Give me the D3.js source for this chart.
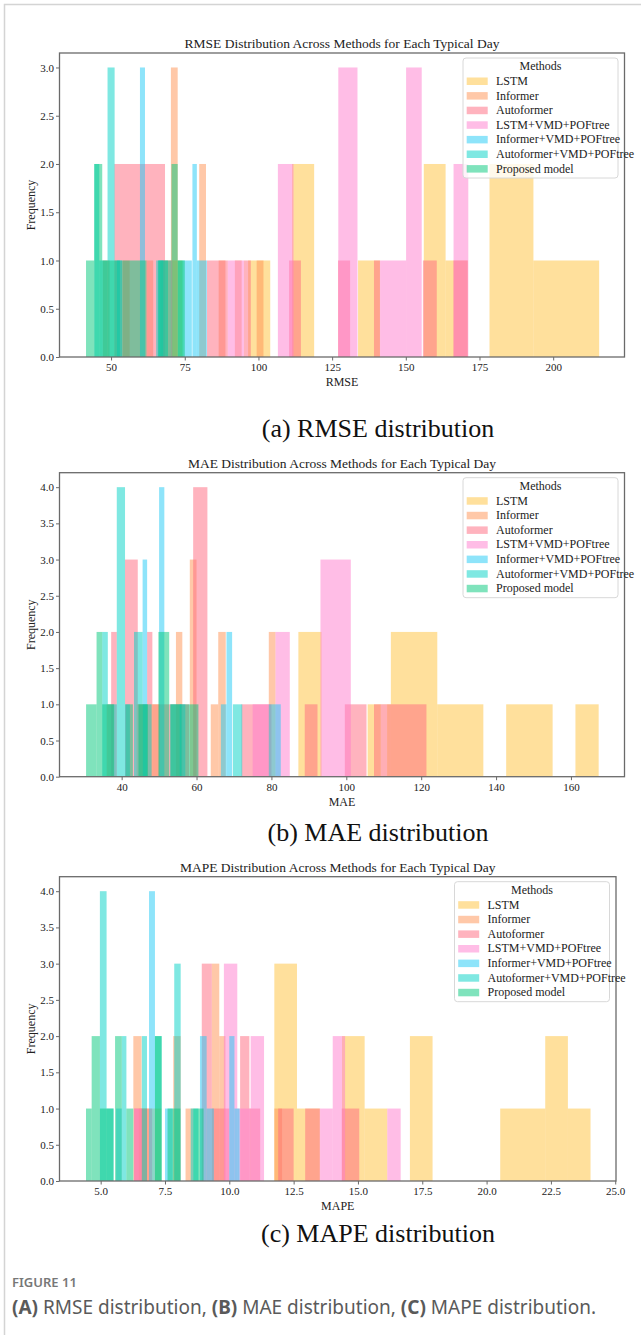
<!DOCTYPE html>
<html>
<head>
<meta charset="utf-8">
<script src="https://cdn.jsdelivr.net/npm/d3@7/dist/d3.min.js"></script>
<style>
  body { margin: 0; background: #fff; }
  svg text { font-family: "Liberation Serif", "Times New Roman", serif; }
  .cap text { font-family: "Noto Sans", "Open Sans", sans-serif; }
</style>
</head>
<body>
<svg id="fig" width="641" height="1335"></svg>
<script>
// methods and colours (alpha applied when drawing)
const methods = ["LSTM", "Informer", "Autoformer", "LSTM+VMD+POFtree",
  "Informer+VMD+POFtree", "Autoformer+VMD+POFtree", "Proposed model"];
const methodColors = ["#ffc139", "#ff9151", "#ff677d", "#ff7bcd", "#1dc9f5", "#00d1c5", "#00c779"];

// histogram bars: [bin start, bin end, count]
const rmseLSTM = [[66.8,74.2,1],[96.5,104.0,1],[111.4,118.9,2],[133.8,141.2,1],[156.1,163.5,2],[163.5,171.0,1],
  [178.4,193.3,2],[193.3,215.6,1]];
const rmseInformer = [[47.2,49.5,1],[54.0,56.3,1],[62.0,64.3,1],[70.3,72.6,3],[79.9,82.2,2],[86.5,88.8,1],
  [92.0,94.3,1],[99.4,101.7,1]];
const rmseAutoformer = [[51.1,68.3,2],[82.5,89.6,1],[95.1,97.4,1],[110.4,114.4,1],[127.0,131.1,1],[139.2,141.3,1],
  [155.8,160.5,1],[166.2,171.0,1]];
const rmseLstmVmd = [[67.5,70.8,1],[89.6,95.1,1],[106.6,111.9,2],[127.1,133.6,3],[141.3,150.1,1],[150.1,155.4,3],
  [166.2,171.2,2]];
const rmseInformerVmd = [[52.0,53.7,1],[59.8,61.5,3],[66.0,67.7,1],[74.5,77.4,1],[77.6,79.1,2],[79.1,82.5,1]];
const rmseAutoformerVmd = [[44.3,46.0,2],[46.0,48.8,1],[48.8,51.2,3],[51.2,53.0,1],[65.3,69.3,1],[72.6,74.5,1]];
const rmseProposed = [[41.5,44.3,1],[44.3,47.0,2],[47.0,62.0,1],[66.0,70.5,1],[70.5,72.6,2],[72.6,75.0,1]];

const maeLSTM = [[44.0,50.2,1],[87.2,93.4,2],[105.7,111.9,1],[111.9,124.3,2],[124.3,136.6,1],[142.7,155.1,1],
  [161.2,167.4,1]];
const maeInformer = [[36.0,37.8,1],[54.5,56.2,2],[58.2,60.0,3],[63.8,65.8,1],[65.8,67.8,2],[79.3,81.1,2]];
const maeAutoformer = [[37.2,38.7,2],[40.9,44.3,3],[44.3,46.8,1],[46.8,48.2,2],[48.2,58.0,1],[59.1,62.9,4],
  [72.0,80.0,1],[88.9,92.3,1],[99.6,105.4,1],[107.4,109.2,1],[110.9,121.4,1]];
const maeLstmVmd = [[75.0,79.3,1],[81.1,84.9,2],[93.1,101.2,3],[109.2,110.9,1]];
const maeInformerVmd = [[40.9,42.2,1],[45.6,46.8,3],[50.0,51.4,4],[55.5,57.0,1],[66.5,68.0,1],[68.0,69.5,2],
  [79.3,82.5,1]];
const maeAutoformerVmd = [[34.8,36.3,2],[36.3,38.7,1],[38.7,40.9,4],[43.3,45.6,2],[45.6,48.0,1],[53.0,56.0,1],
  [69.7,72.2,1]];
const maeProposed = [[30.5,33.3,1],[33.3,34.8,2],[34.8,38.0,1],[41.0,43.0,1],[44.5,47.0,1],[49.8,52.7,2],
  [53.0,60.5,1]];

const mapeLSTM = [[6.48,7.36,1],[11.75,12.63,3],[12.63,13.51,1],[14.38,15.26,2],[15.26,16.14,1],[17.02,17.9,2],
  [20.53,22.28,1],[22.28,23.16,2],[23.16,24.04,1]];
const mapeInformer = [[6.27,6.59,2],[6.59,6.8,1],[7.82,8.11,2],[8.3,8.6,1],[9.32,9.61,3],[9.61,9.85,2],
  [11.75,12.05,1]];
const mapeAutoformer = [[6.3,7.0,1],[8.93,9.32,3],[9.32,10.0,1],[10.42,10.78,2],[10.78,11.2,1],[11.9,12.5,1],
  [12.95,13.53,1],[14.37,15.05,1]];
const mapeLstmVmd = [[6.3,6.6,1],[9.79,10.31,3],[10.31,10.83,1],[10.83,11.35,2],[13.53,14.02,1],[14.02,14.5,2],
  [16.14,16.66,1]];
const mapeInformerVmd = [[5.6,5.82,1],[6.88,7.11,4],[7.5,7.8,1],[8.86,9.12,2],[9.12,9.4,1],[10.0,10.2,2],
  [10.2,10.4,1]];
const mapeAutoformerVmd = [[4.97,5.23,4],[5.23,5.5,1],[5.82,6.0,2],[6.6,6.8,2],[7.11,7.37,2],[7.86,8.11,3],
  [8.5,8.8,1]];
const mapeProposed = [[4.43,4.65,1],[4.65,4.97,2],[4.97,5.5,1],[5.56,5.82,2],[6.0,6.27,1],[7.11,7.37,2],
  [7.6,8.1,1],[8.6,9.0,1]];

// tick labels
const rmseTicks = [50, 75, 100, 125, 150, 175, 200];
const maeTicks = [40, 60, 80, 100, 120, 140, 160];
const mapeTicks = [5, 7.5, 10, 12.5, 15, 17.5, 20, 22.5, 25];
const freq3Ticks = [0, 0.5, 1, 1.5, 2, 2.5, 3];
const freq4Ticks = [0, 0.5, 1, 1.5, 2, 2.5, 3, 3.5, 4];

const panels = [
  { metric: "RMSE", sub: "(a) RMSE distribution",
    series: [rmseLSTM, rmseInformer, rmseAutoformer, rmseLstmVmd, rmseInformerVmd, rmseAutoformerVmd, rmseProposed],
    xDomain: [32.5, 224.2], xTicks: rmseTicks, xFmt: d3.format("d"), yMax: 3.15, yTicks: freq3Ticks,
    left: 59.5, right: 624.5, top: 53, bottom: 357, subY: 437 },
  { metric: "MAE", sub: "(b) MAE distribution",
    series: [maeLSTM, maeInformer, maeAutoformer, maeLstmVmd, maeInformerVmd, maeAutoformerVmd, maeProposed],
    xDomain: [23.4, 174.3], xTicks: maeTicks, xFmt: d3.format("d"), yMax: 4.2, yTicks: freq4Ticks,
    left: 59.5, right: 624.5, top: 472.7, bottom: 776.7, subY: 841 },
  { metric: "MAPE", sub: "(c) MAPE distribution",
    series: [mapeLSTM, mapeInformer, mapeAutoformer, mapeLstmVmd, mapeInformerVmd, mapeAutoformerVmd, mapeProposed],
    xDomain: [3.4, 25.03], xTicks: mapeTicks, xFmt: d3.format(".1f"), yMax: 4.2, yTicks: freq4Ticks,
    left: 59.5, right: 616, top: 876.7, bottom: 1181, subY: 1242 }
];

const svg = d3.select("#fig");

// card frame
svg.append("rect").attr("x", 4.5).attr("y", 4.5).attr("width", 700).attr("height", 1400)
  .attr("fill", "none").attr("stroke", "#d4d4d4").attr("stroke-width", 1.5);

panels.forEach(p => {
  const x = d3.scaleLinear().domain(p.xDomain).range([p.left, p.right]);
  const y = d3.scaleLinear().domain([0, p.yMax]).range([p.bottom, p.top]);
  const g = svg.append("g");

  // bars, one method after another so later ones sit on top
  p.series.forEach((bins, i) => {
    g.append("g").selectAll("rect").data(bins).join("rect")
      .attr("x", d => x(d[0]))
      .attr("width", d => x(d[1]) - x(d[0]))
      .attr("y", d => y(d[2]))
      .attr("height", d => y(0) - y(d[2]))
      .attr("fill", methodColors[i])
      .attr("fill-opacity", 0.5);
  });

  // axes
  const xAxis = g.append("g").attr("transform", `translate(0,${p.bottom})`)
    .call(d3.axisBottom(x).tickValues(p.xTicks).tickFormat(p.xFmt).tickSize(3.5).tickPadding(3));
  const yAxis = g.append("g").attr("transform", `translate(${p.left},0)`)
    .call(d3.axisLeft(y).tickValues(p.yTicks).tickFormat(d3.format(".1f")).tickSize(3.5).tickPadding(2));
  [xAxis, yAxis].forEach(a => {
    a.select(".domain").remove();
    a.selectAll("line").attr("stroke", "#444").attr("stroke-width", 0.8);
    a.selectAll("text").style("font-family", "Liberation Serif, serif").style("font-size", "11px").style("fill", "#222");
  });

  g.append("rect").attr("x", p.left).attr("y", p.top)
    .attr("width", p.right - p.left).attr("height", p.bottom - p.top)
    .attr("fill", "none").attr("stroke", "#6a6a6a").attr("stroke-width", 1.3);

  const cx = (p.left + p.right) / 2;
  g.append("text").attr("x", cx).attr("y", p.top - 5).attr("text-anchor", "middle")
    .style("font-size", "13.5px").style("fill", "#222").text(`${p.metric} Distribution Across Methods for Each Typical Day`);
  g.append("text").attr("x", cx).attr("y", p.bottom + 29).attr("text-anchor", "middle")
    .style("font-size", "12px").style("fill", "#222").text(p.metric);
  g.append("text").attr("transform", `translate(35,${(p.top + p.bottom) / 2}) rotate(-90)`)
    .attr("text-anchor", "middle").style("font-size", "12px").style("fill", "#222").text("Frequency");
  g.append("text").attr("x", 378).attr("y", p.subY).attr("text-anchor", "middle")
    .style("font-size", "26px").style("fill", "#111").text(p.sub);

  // legend
  const lx = p.right - 161.5, ly = p.top + 5;
  const lg = g.append("g").attr("transform", `translate(${lx},${ly})`);
  lg.append("rect").attr("width", 155).attr("height", 120).attr("rx", 3)
    .attr("fill", "#fff").attr("fill-opacity", 0.8).attr("stroke", "#d8d8d8");
  lg.append("text").attr("x", 77.5).attr("y", 12).attr("text-anchor", "middle")
    .style("font-size", "12px").style("fill", "#222").text("Methods");
  methods.forEach((m, i) => {
    const ry = 23 + 14.6 * i;
    lg.append("rect").attr("x", 3.7).attr("y", ry - 3.5).attr("width", 21).attr("height", 7.5)
      .attr("fill", methodColors[i]).attr("fill-opacity", 0.5);
    lg.append("text").attr("x", 33).attr("y", ry + 4).style("font-size", "12px").style("fill", "#222").text(m);
  });
});

// figure caption
const cap = svg.append("g").attr("class", "cap");
cap.append("text").attr("x", 12).attr("y", 1287).style("font-size", "13px").style("font-weight", 600)
  .style("fill", "#777").text("FIGURE 11");
const line = cap.append("text").attr("x", 12).attr("y", 1314).style("font-size", "19px").style("fill", "#5a5a5a");
[["(A)", true], [" RMSE distribution, ", false], ["(B)", true], [" MAE distribution, ", false],
 ["(C)", true], [" MAPE distribution.", false]].forEach(([t, b]) => {
  line.append("tspan").style("font-weight", b ? 700 : 400).text(t);
});
</script>
</body>
</html>
